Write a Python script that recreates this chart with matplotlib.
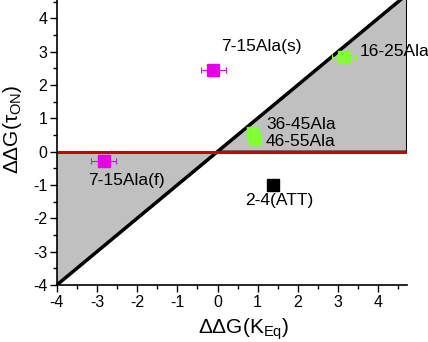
import numpy as np
import matplotlib
matplotlib.use('Agg')
import matplotlib.pyplot as plt

plt.rcParams['font.family'] = ['Liberation Sans', 'DejaVu Sans']
plt.rcParams['axes.unicode_minus'] = False
plt.rcParams['mathtext.fontset'] = 'custom'
plt.rcParams['mathtext.rm'] = 'Liberation Sans'
plt.rcParams['mathtext.it'] = 'Liberation Sans'

# point data: (ddG(K_Eq), ddG(tau_ON)) per construct
names = ['7-15Ala(s)', '16-25Ala', '36-45Ala', '46-55Ala', '7-15Ala(f)', '2-4(ATT)']
dg_keq = [-0.11, 3.16, 0.89, 0.94, -2.83, 1.39]
dg_ton = [2.45, 2.84, 0.57, 0.39, -0.27, -1.01]
keq_err = [0.31, 0.30, 0.0, 0.0, 0.31, 0.0]
colors = ['#e600e6', '#80ff33', '#80ff33', '#80ff33', '#e600e6', 'black']
msizes = [9, 8, 8, 8, 8, 9]
label_pos = [(0.09, 3.16), (3.54, 3.01), (1.21, 0.8), (1.21, 0.3), (-3.23, -0.87), (0.69, -1.46)]

xlim = (-4, 4.72)
ylim = (-4, 4.55)

fig = plt.figure(figsize=(4.28, 3.42), dpi=100)
ax = fig.add_axes([0.133, 0.167, 0.818, 0.833])

# shaded regions between the diagonal and zero line
ax.fill([0, xlim[1], xlim[1]], [0, xlim[1], 0], facecolor='#c0c0c0', edgecolor='black', lw=1.5, zorder=1)
ax.fill([-4, -4, 0], [-4, 0, 0], facecolor='#c0c0c0', edgecolor='none', zorder=1)
ax.plot([-4, xlim[1]], [-4, xlim[1]], color='black', lw=2.5, zorder=2)
ax.plot([-4, xlim[1]], [0, 0], color='#cc0000', lw=2.2, zorder=2)

for x, y, e, c, m, n, (tx, ty) in zip(dg_keq, dg_ton, keq_err, colors, msizes, names, label_pos):
    ax.errorbar(x, y, xerr=e if e else None, fmt='s', color=c, ms=m, mec=c,
                ecolor=c, elinewidth=0.8, capsize=2.5, capthick=0.8, zorder=3)
    ax.text(tx, ty, n, fontsize=12.5, va='center', ha='left', zorder=4)

ax.set_xlim(xlim)
ax.set_ylim(ylim)
ax.set_xticks(np.arange(-4, 5, 1))
ax.set_yticks(np.arange(-4, 5, 1))
ax.set_xticks(np.arange(-4, 4.7, 0.5), minor=True)
ax.set_yticks(np.arange(-4, 4.6, 0.5), minor=True)
ax.tick_params(which='major', direction='out', length=5, width=1, labelsize=11.5, pad=2)
ax.tick_params(which='minor', direction='out', length=3, width=1)
for s in ['top', 'right']:
    ax.spines[s].set_visible(False)
for s in ['left', 'bottom']:
    ax.spines[s].set_linewidth(1.2)

ax.set_xlabel(r'ΔΔG(K$_{\mathregular{Eq}}$)', fontsize=15)
ax.set_ylabel(r'ΔΔG(τ$_{\mathregular{ON}}$)', fontsize=15)
ax.xaxis.set_label_coords(0.534, -0.11)
ax.yaxis.set_label_coords(-0.095, 0.547)

fig.savefig('out.png', dpi=100)
